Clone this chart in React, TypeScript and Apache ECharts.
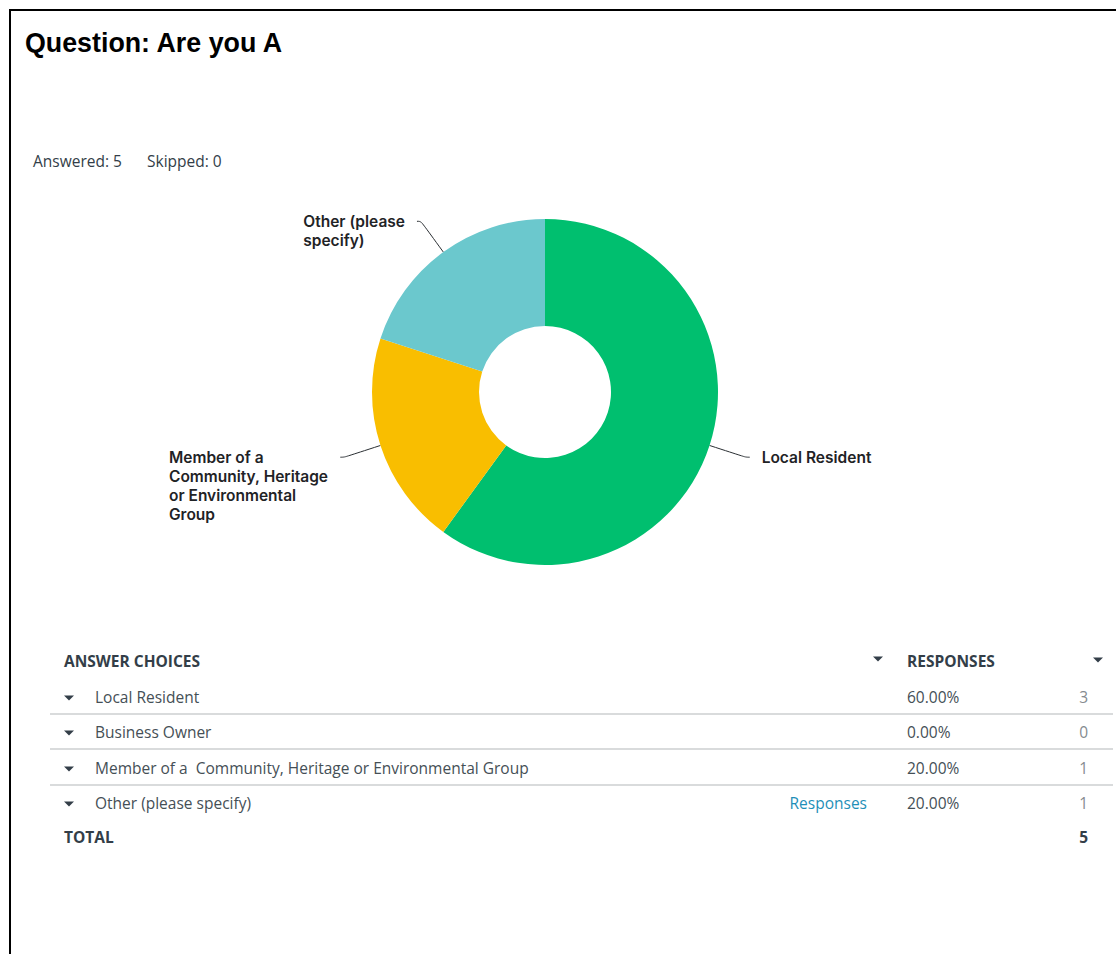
import React, { useEffect, useRef } from "react";
import * as echarts from "echarts";

const title = "Question: Are you A";
const answeredText = "Answered: 5";
const skippedText = "Skipped: 0";

const categories = [
  "Local Resident",
  "Business Owner",
  "Member of a  Community, Heritage or Environmental Group",
  "Other (please specify)",
];
const counts = [3, 0, 1, 1];
const percents = ["60.00%", "0.00%", "20.00%", "20.00%"];
const chartLabels = [
  "Local Resident",
  "Business Owner",
  "Member of a\nCommunity, Heritage\nor Environmental\nGroup",
  "Other (please\nspecify)",
];
const colors = ["#00BF6F", "#A05DB5", "#F9BE00", "#6BC8CD"];
const totalLabel = "TOTAL";
const totalCount = 5;
const linkText = ["", "", "", "Responses"];

export default function App() {
  const ref = useRef<HTMLDivElement>(null);
  useEffect(() => {
    if (!ref.current) return;
    const chart = echarts.init(ref.current, undefined, { renderer: "svg" });
    const font = "'Open Sans', 'DejaVu Sans', sans-serif";
    const labelFont = "Inter, 'Open Sans', sans-serif";
    const headColor = "#333e48";
    const rowColor = "#454f56";
    const countColor = "#858b8f";
    const fs = 15.5;

    const pieData = categories
      .map((c, i) => {
        const lines = chartLabels[i].split("\n");
        const blanks = Array(lines.length - 1).fill("{l| }");
        return {
          name: c,
          value: counts[i],
          itemStyle: { color: colors[i] },
          label: {
            formatter: [...blanks, ...lines.map((l) => `{l|${l}}`)].join("\n"),
          },
        };
      })
      .filter((d) => d.value > 0);

    const tri = (x: number, y: number, w = 10, h = 5) => ({
      type: "polygon",
      silent: true,
      shape: {
        points: [
          [x - w / 2, y - h / 2],
          [x + w / 2, y - h / 2],
          [x, y + h / 2],
        ],
      },
      style: { fill: headColor },
    });

    const rowY = [697, 732, 768, 803];
    const sepY = [714, 749, 785];
    const graphics: any[] = [
      {
        type: "rect",
        silent: true,
        shape: { x: 10, y: 10, width: 1300, height: 1200 },
        style: { fill: "none", stroke: "#000", lineWidth: 2 },
      },
      {
        type: "text",
        x: 25,
        y: 43,
        style: {
          text: title,
          font: "bold 26.8px 'Liberation Sans', Arial, sans-serif",
          fill: "#000",
          verticalAlign: "middle",
        },
      },
      {
        type: "text",
        x: 33,
        y: 161,
        style: {
          text: answeredText,
          font: `${fs}px ${font}`,
          fill: "#333e48",
          verticalAlign: "middle",
        },
      },
      {
        type: "text",
        x: 147,
        y: 161,
        style: {
          text: skippedText,
          font: `${fs}px ${font}`,
          fill: "#333e48",
          verticalAlign: "middle",
        },
      },
      {
        type: "text",
        x: 64,
        y: 661,
        style: {
          text: "ANSWER CHOICES",
          font: `bold ${fs}px ${font}`,
          fill: headColor,
          verticalAlign: "middle",
        },
      },
      tri(878, 659),
      {
        type: "text",
        x: 907,
        y: 661,
        style: {
          text: "RESPONSES",
          font: `bold ${fs}px ${font}`,
          fill: headColor,
          verticalAlign: "middle",
        },
      },
      tri(1098, 660),
    ];
    sepY.forEach((y) => {
      graphics.push({
        type: "line",
        silent: true,
        shape: { x1: 50, y1: y, x2: 1113, y2: y },
        style: { stroke: "#d9dbdc", lineWidth: 2 },
      });
    });
    categories.forEach((c, i) => {
      const y = rowY[i];
      graphics.push(tri(69, y + 1));
      graphics.push({
        type: "text",
        x: 95,
        y,
        style: { text: c, font: `${fs}px ${font}`, fill: rowColor, verticalAlign: "middle" },
      });
      if (linkText[i]) {
        graphics.push({
          type: "text",
          x: 867,
          y,
          style: {
            text: linkText[i],
            font: `${fs}px ${font}`,
            fill: "#1f8fb8",
            align: "right",
            verticalAlign: "middle",
          },
        });
      }
      graphics.push({
        type: "text",
        x: 907,
        y,
        style: { text: percents[i], font: `${fs}px ${font}`, fill: rowColor, verticalAlign: "middle" },
      });
      graphics.push({
        type: "text",
        x: 1088,
        y,
        style: {
          text: String(counts[i]),
          font: `${fs}px ${font}`,
          fill: countColor,
          align: "right",
          verticalAlign: "middle",
        },
      });
    });
    graphics.push({
      type: "text",
      x: 64,
      y: 837,
      style: { text: totalLabel, font: `bold ${fs}px ${font}`, fill: headColor, verticalAlign: "middle" },
    });
    graphics.push({
      type: "text",
      x: 1088,
      y: 837,
      style: {
        text: String(totalCount),
        font: `bold ${fs}px ${font}`,
        fill: headColor,
        align: "right",
        verticalAlign: "middle",
      },
    });

    chart.setOption({
      animation: false,
      backgroundColor: "#fff",
      graphic: graphics,
      series: [
        {
          type: "pie",
          center: [545, 392],
          radius: [66, 173],
          startAngle: 90,
          clockwise: true,
          silent: true,
          avoidLabelOverlap: false,
          itemStyle: { borderWidth: 0 },
          label: {
            show: true,
            distanceToLabelLine: 12,
            rich: {
              l: {
                fontFamily: labelFont,
                fontWeight: 600,
                fontSize: 15.5,
                lineHeight: 19,
                color: "#1f2326",
                align: "left",
              },
            },
          },
          labelLine: {
            show: true,
            length: 38,
            length2: 4,
            smooth: 0.4,
            lineStyle: { color: "#2a2f33", width: 1 },
          },
          emphasis: { disabled: true },
          data: pieData,
        },
      ],
    });
    return () => chart.dispose();
  }, []);
  return (
    <div
      ref={ref}
      style={{ position: "absolute", left: 0, top: 0, width: 1116, height: 954 }}
    />
  );
}
